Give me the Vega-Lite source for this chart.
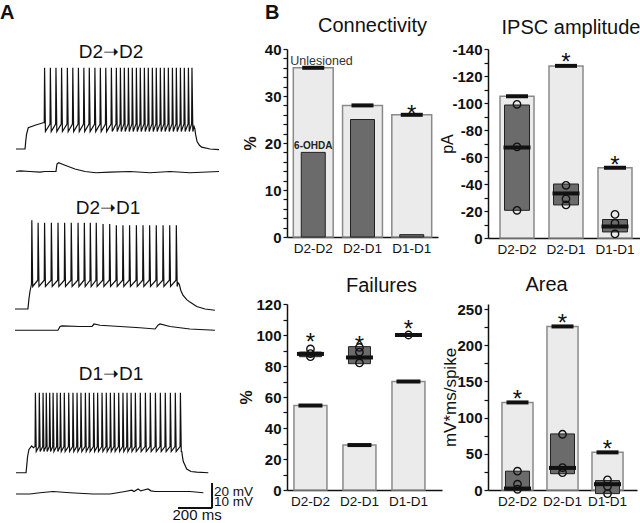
{
"$schema": "https://vega.github.io/schema/vega-lite/v6.json",
"padding": {"left": 0, "top": 2, "right": 0, "bottom": 0},
"bounds": "flush",
"columns": 3,
"align": {"row": "each", "column": "none"},
"spacing": {"row": 66, "column": 46},
"config": {
  "font": "Liberation Sans",
  "view": {"stroke": null},
  "axis": {"grid": false, "labelOverlap": false, "domainColor": "#111", "tickColor": "#111", "labelColor": "#111", "titleColor": "#111", "labelFont": "Liberation Sans", "titleFont": "Liberation Sans", "domainWidth": 1.5, "tickWidth": 1.2},
  "axisY": {"labelFontWeight": "bold"},
  "title": {"font": "Liberation Sans", "fontSize": 20, "fontWeight": "normal", "color": "#111"}
},
"concat": [
{
  "width": 226, "height": 189,
  "layer": [
    {"data": {"values": [{"t":6,"v":300},{"t":59,"v":300},{"t":63,"v":306},{"t":68,"v":312},{"t":78,"v":317},{"t":118,"v":319},{"t":165,"v":321},
{"t":172,"v":321},{"t":174,"v":365},{"t":179,"v":314},
{"t":206,"v":320},{"t":208,"v":365},{"t":213,"v":314},
{"t":239,"v":320},{"t":241,"v":365},{"t":246,"v":314},
{"t":272,"v":320},{"t":274,"v":365},{"t":279,"v":314},
{"t":306,"v":320},{"t":308,"v":365},{"t":313,"v":314},
{"t":338,"v":320},{"t":340,"v":365},{"t":345,"v":314},
{"t":371,"v":320},{"t":373,"v":365},{"t":378,"v":314},
{"t":403,"v":320},{"t":405,"v":365},{"t":410,"v":314},
{"t":435,"v":320},{"t":437,"v":365},{"t":442,"v":314},
{"t":468,"v":320},{"t":470,"v":365},{"t":475,"v":314},
{"t":500,"v":320},{"t":502,"v":365},{"t":507,"v":314},
{"t":532,"v":320},{"t":534,"v":365},{"t":539,"v":314},
{"t":565,"v":320},{"t":567,"v":365},{"t":572,"v":314},
{"t":594,"v":320},{"t":596,"v":365},{"t":601,"v":314},
{"t":618,"v":320},{"t":620,"v":365},{"t":625,"v":314},
{"t":641,"v":320},{"t":643,"v":365},{"t":648,"v":314},
{"t":665,"v":320},{"t":667,"v":365},{"t":672,"v":314},
{"t":688,"v":320},{"t":690,"v":365},{"t":695,"v":314},
{"t":712,"v":320},{"t":714,"v":365},{"t":719,"v":314},
{"t":735,"v":320},{"t":737,"v":365},{"t":742,"v":314},
{"t":759,"v":320},{"t":761,"v":365},{"t":766,"v":314},
{"t":782,"v":320},{"t":784,"v":365},{"t":789,"v":314},
{"t":806,"v":320},{"t":808,"v":365},{"t":813,"v":314},
{"t":829,"v":320},{"t":831,"v":365},{"t":836,"v":314},
{"t":853,"v":320},{"t":855,"v":365},{"t":860,"v":314},
{"t":876,"v":320},{"t":878,"v":365},{"t":883,"v":314},
{"t":900,"v":320},{"t":902,"v":365},{"t":907,"v":314},
{"t":924,"v":320},{"t":926,"v":365},{"t":931,"v":314},
{"t":947,"v":320},{"t":949,"v":365},{"t":954,"v":314},
{"t":971,"v":320},{"t":973,"v":365},{"t":978,"v":314},
{"t":994,"v":320},{"t":996,"v":365},{"t":1001,"v":314},
{"t":1018,"v":320},{"t":1020,"v":365},{"t":1025,"v":314},
{"t":1039,"v":320},{"t":1041,"v":365},{"t":1046,"v":314},
{"t":1053,"v":318},{"t":1058,"v":316},{"t":1062,"v":312},{"t":1071,"v":306},{"t":1085,"v":303},{"t":1098,"v":301.5},{"t":1147,"v":300},{"t":1200,"v":299.5}]},
     "mark": {"type": "line", "color": "#111", "strokeWidth": 1.2},
     "encoding": {"x": {"field": "t", "type": "quantitative", "scale": {"domain": [0, 1329.4], "nice": false, "zero": false}, "axis": null},
                  "y": {"field": "v", "type": "quantitative", "scale": {"domain": [228.8, 380], "nice": false, "zero": false}, "axis": null}}},
    {"data": {"values": [{"t":6,"v":282},{"t":30,"v":282.5},{"t":88,"v":282},{"t":147,"v":281.5},{"t":176,"v":282},{"t":241,"v":282},{"t":247,"v":288},{"t":256,"v":289},{"t":294,"v":287},{"t":353,"v":284},{"t":412,"v":282},{"t":476,"v":281},{"t":559,"v":281.5},{"t":676,"v":282},{"t":794,"v":281},{"t":912,"v":282},{"t":1029,"v":281},{"t":1200,"v":282}]},
     "mark": {"type": "line", "color": "#111", "strokeWidth": 1.2},
     "encoding": {"x": {"field": "t", "type": "quantitative"}, "y": {"field": "v", "type": "quantitative"}}},
    {"data": {"values": [{"t":0,"v":172},{"t":76,"v":172},{"t":82,"v":180},{"t":88,"v":186},{"t":94,"v":190},
{"t":97,"v":192},{"t":99,"v":243},{"t":104,"v":190},
{"t":134,"v":195},{"t":136,"v":241},{"t":141,"v":190},
{"t":172,"v":195},{"t":174,"v":241},{"t":179,"v":190},
{"t":212,"v":195},{"t":214,"v":241},{"t":219,"v":190},
{"t":251,"v":195},{"t":253,"v":241},{"t":258,"v":190},
{"t":290,"v":195},{"t":292,"v":241},{"t":297,"v":190},
{"t":329,"v":195},{"t":331,"v":241},{"t":336,"v":190},
{"t":369,"v":195},{"t":371,"v":241},{"t":376,"v":190},
{"t":406,"v":195},{"t":408,"v":241},{"t":413,"v":190},
{"t":441,"v":195},{"t":443,"v":241},{"t":448,"v":190},
{"t":476,"v":195},{"t":478,"v":241},{"t":483,"v":190},
{"t":516,"v":195},{"t":518,"v":240},{"t":523,"v":190},
{"t":555,"v":195},{"t":557,"v":240},{"t":562,"v":190},
{"t":594,"v":195},{"t":596,"v":239},{"t":601,"v":190},
{"t":633,"v":195},{"t":635,"v":239},{"t":640,"v":190},
{"t":672,"v":195},{"t":674,"v":239},{"t":679,"v":190},
{"t":712,"v":195},{"t":714,"v":239},{"t":719,"v":190},
{"t":751,"v":195},{"t":753,"v":239},{"t":758,"v":190},
{"t":790,"v":195},{"t":792,"v":239},{"t":797,"v":190},
{"t":829,"v":195},{"t":831,"v":239},{"t":836,"v":190},
{"t":869,"v":195},{"t":871,"v":239},{"t":876,"v":190},
{"t":908,"v":195},{"t":910,"v":239},{"t":915,"v":190},
{"t":947,"v":195},{"t":949,"v":239},{"t":954,"v":190},
{"t":959,"v":193},{"t":966,"v":192},{"t":975,"v":187},{"t":988,"v":183},{"t":1010,"v":179.5},{"t":1029,"v":177.5},{"t":1069,"v":174},{"t":1118,"v":172},{"t":1176,"v":171}]},
     "mark": {"type": "line", "color": "#111", "strokeWidth": 1.2},
     "encoding": {"x": {"field": "t", "type": "quantitative"}, "y": {"field": "v", "type": "quantitative"}}},
    {"data": {"values": [{"t":0,"v":155},{"t":147,"v":155},{"t":253,"v":155},{"t":265,"v":158},{"t":276,"v":158.5},{"t":382,"v":158},{"t":453,"v":158},{"t":465,"v":160},{"t":500,"v":159},{"t":618,"v":158},{"t":735,"v":157},{"t":824,"v":156},{"t":841,"v":159},{"t":853,"v":160},{"t":912,"v":158},{"t":1029,"v":156},{"t":1176,"v":155}]},
     "mark": {"type": "line", "color": "#111", "strokeWidth": 1.2},
     "encoding": {"x": {"field": "t", "type": "quantitative"}, "y": {"field": "v", "type": "quantitative"}}},
    {"data": {"values": [{}]}, "mark": {"type": "text", "text": "A", "fontSize": 20, "fontWeight": "bold", "align": "left", "baseline": "alphabetic", "color": "#111"}, "encoding": {"x": {"datum": -88}, "y": {"datum": 404}}},
    {"data": {"values": [{}]}, "mark": {"type": "text", "text": "B", "fontSize": 20, "fontWeight": "bold", "align": "left", "baseline": "alphabetic", "color": "#111"}, "encoding": {"x": {"datum": 1470}, "y": {"datum": 404}}},
    {"data": {"values": [{}]}, "mark": {"type": "text", "text": "D2➝D2", "fontSize": 19, "baseline": "alphabetic", "color": "#111"}, "encoding": {"x": {"datum": 565}, "y": {"datum": 372.8}}},
    {"data": {"values": [{}]}, "mark": {"type": "text", "text": "D2➝D1", "fontSize": 19, "baseline": "alphabetic", "color": "#111"}, "encoding": {"x": {"datum": 547}, "y": {"datum": 248}}}
  ]
},
{
  "width": 151, "height": 188,
  "title": {"text": "Connectivity", "frame": "group", "dx": 10, "offset": 6},
  "encoding": {
    "x": {"field": "g", "type": "nominal", "scale": {"domain": ["D2-D2","D2-D1","D1-D1"], "paddingInner": 0.19, "paddingOuter": 0.128}, "axis": {"title": null, "ticks": false, "labelAngle": 0, "labelFontSize": 13.5, "labelPadding": 4}},
    "y": {"field": "y", "type": "quantitative", "scale": {"domain": [0, 40], "nice": false}, "axis": {"values": [0,2,4,6,8,10,12,14,16,18,20,22,24,26,28,30,32,34,36,38,40], "labelExpr": "datum.value % 10 == 0 ? datum.label : ''", "labelOverlap": false, "labelFlush": false, "title": "%", "titleFontWeight": "bold", "titleFontSize": 16, "tickSize": 4, "labelPadding": 2, "labelFontSize": 15, "titlePadding": 6}}
  },
  "layer": [
    {"data": {"values": [{"g":"D2-D2","y":36},{"g":"D2-D1","y":28},{"g":"D1-D1","y":26}]},
     "mark": {"type": "bar", "fill": "#ebebeb", "stroke": "#8a8a8a", "strokeWidth": 1.5}},
    {"data": {"values": [{"g":"D2-D2","y":18,"y2":0},{"g":"D2-D1","y":25,"y2":0},{"g":"D1-D1","y":0.5,"y2":0}]},
     "mark": {"type": "bar", "width": 24, "fill": "#6b6b6b", "stroke": "#222", "strokeWidth": 1},
     "encoding": {"y2": {"field": "y2"}}},
    {"data": {"values": [{"g":"D2-D2","y":36},{"g":"D2-D1","y":28},{"g":"D1-D1","y":26}]},
     "mark": {"type": "tick", "thickness": 4, "size": 22, "color": "#111", "opacity": 1}},
    {"data": {"values": [{"g":"D1-D1","y":27.4}]},
     "mark": {"type": "text", "text": "*", "fontSize": 24, "baseline": "middle", "dy": 7, "color": "#111"}},
    {"data": {"values": [{"g":"D2-D2","y":36.6}]}, "mark": {"type": "text", "text": "Unlesioned", "fontSize": 12.5, "align": "left", "dx": -23, "baseline": "alphabetic", "color": "#333"}},
    {"data": {"values": [{"g":"D2-D2","y":18.8}]}, "mark": {"type": "text", "text": "6-OHDA", "fontSize": 10, "fontWeight": "bold", "baseline": "alphabetic", "color": "#222"}}
  ]
},
{
  "width": 156, "height": 189,
  "title": {"text": "IPSC amplitude", "frame": "group", "dx": 5, "offset": 4},
  "encoding": {
    "x": {"field": "g", "type": "nominal", "scale": {"domain": ["D2-D2","D2-D1","D1-D1"], "paddingInner": 0.306, "paddingOuter": 0.245}, "axis": {"title": null, "ticks": false, "labelAngle": 0, "labelFontSize": 13.5, "labelPadding": 4}},
    "y": {"field": "y", "type": "quantitative", "scale": {"domain": [0, -140], "nice": false, "zero": false}, "axis": {"values": [0,-10,-20,-30,-40,-50,-60,-70,-80,-90,-100,-110,-120,-130,-140], "labelExpr": "datum.value % 20 == 0 ? '' + datum.value : ''", "labelOverlap": false, "labelFlush": false, "title": "pA", "titleFontWeight": "normal", "titleFontSize": 16, "tickSize": 4, "labelPadding": 2, "labelFontSize": 15, "titlePadding": -4}}
  },
  "layer": [
    {"data": {"values": [{"g":"D2-D2","y":-105},{"g":"D2-D1","y":-127.5},{"g":"D1-D1","y":-52}]},
     "mark": {"type": "bar", "fill": "#ebebeb", "stroke": "#8a8a8a", "strokeWidth": 1.5}},
    {"data": {"values": [{"g":"D2-D2","y":-98.5,"y2":-20.5},{"g":"D2-D1","y":-40,"y2":-24.5},{"g":"D1-D1","y":-13.7,"y2":-4.5}]},
     "mark": {"type": "bar", "width": 25, "fill": "#6b6b6b", "stroke": "#222", "strokeWidth": 1},
     "encoding": {"y2": {"field": "y2"}}},
    {"data": {"values": [{"g":"D2-D2","y":-105},{"g":"D2-D1","y":-127.5},{"g":"D1-D1","y":-52}]},
     "mark": {"type": "tick", "thickness": 4, "size": 22, "color": "#111", "opacity": 1}},
    {"data": {"values": [{"g":"D2-D2","y":-99},{"g":"D2-D2","y":-67.5},{"g":"D2-D2","y":-20.5},{"g":"D2-D1","y":-39},{"g":"D2-D1","y":-29},{"g":"D2-D1","y":-24.5},{"g":"D1-D1","y":-17.5},{"g":"D1-D1","y":-11},{"g":"D1-D1","y":-3}]},
     "mark": {"type": "point", "shape": "circle", "filled": false, "stroke": "#111", "strokeWidth": 1.4, "size": 55, "opacity": 1}},
    {"data": {"values": [{"g":"D2-D2","y":-67},{"g":"D2-D1","y":-33},{"g":"D1-D1","y":-8.5}]},
     "mark": {"type": "tick", "thickness": 4, "size": 27, "color": "#111", "opacity": 1}},
    {"data": {"values": [{"g":"D2-D1","y":-135},{"g":"D1-D1","y":-58.5}]},
     "mark": {"type": "text", "text": "*", "fontSize": 24, "baseline": "middle", "dy": 7, "color": "#111"}}
  ]
},
{
  "width": 226, "height": 186,
  "layer": [
    {"data": {"values": [{"t":6,"v":41},{"t":65,"v":41},{"t":70,"v":48},{"t":74,"v":54},{"t":82,"v":59.6},{"t":98,"v":62.4},{"t":108,"v":61},
{"t":118,"v":62},{"t":120,"v":105},{"t":125,"v":58},
{"t":141,"v":62},{"t":143,"v":105},{"t":148,"v":58},
{"t":163,"v":62},{"t":165,"v":105},{"t":170,"v":58},
{"t":182,"v":62},{"t":184,"v":105},{"t":189,"v":58},
{"t":202,"v":62},{"t":204,"v":105},{"t":209,"v":58},
{"t":222,"v":62},{"t":224,"v":105},{"t":229,"v":58},
{"t":245,"v":62},{"t":247,"v":105},{"t":252,"v":58},
{"t":265,"v":62},{"t":267,"v":105},{"t":272,"v":58},
{"t":288,"v":62},{"t":290,"v":105},{"t":295,"v":58},
{"t":314,"v":62},{"t":316,"v":105},{"t":321,"v":58},
{"t":339,"v":62},{"t":341,"v":105},{"t":346,"v":58},
{"t":363,"v":62},{"t":365,"v":105},{"t":370,"v":58},
{"t":386,"v":62},{"t":388,"v":105},{"t":393,"v":58},
{"t":412,"v":62},{"t":414,"v":105},{"t":419,"v":58},
{"t":435,"v":62},{"t":437,"v":105},{"t":442,"v":58},
{"t":461,"v":62},{"t":463,"v":105},{"t":468,"v":58},
{"t":484,"v":62},{"t":486,"v":105},{"t":491,"v":58},
{"t":510,"v":62},{"t":512,"v":105},{"t":517,"v":58},
{"t":535,"v":62},{"t":537,"v":105},{"t":542,"v":58},
{"t":559,"v":62},{"t":561,"v":105},{"t":566,"v":58},
{"t":582,"v":62},{"t":584,"v":105},{"t":589,"v":58},
{"t":608,"v":62},{"t":610,"v":105},{"t":615,"v":58},
{"t":633,"v":62},{"t":635,"v":105},{"t":640,"v":58},
{"t":657,"v":62},{"t":659,"v":105},{"t":664,"v":58},
{"t":681,"v":62},{"t":683,"v":105},{"t":688,"v":58},
{"t":706,"v":62},{"t":708,"v":105},{"t":713,"v":58},
{"t":735,"v":62},{"t":737,"v":105},{"t":742,"v":58},
{"t":765,"v":62},{"t":767,"v":105},{"t":772,"v":58},
{"t":794,"v":62},{"t":796,"v":105},{"t":801,"v":58},
{"t":824,"v":62},{"t":826,"v":105},{"t":831,"v":58},
{"t":853,"v":62},{"t":855,"v":105},{"t":860,"v":58},
{"t":882,"v":62},{"t":884,"v":105},{"t":889,"v":58},
{"t":912,"v":62},{"t":914,"v":105},{"t":919,"v":58},
{"t":941,"v":62},{"t":943,"v":105},{"t":948,"v":58},
{"t":971,"v":62},{"t":973,"v":105},{"t":978,"v":58},
{"t":981,"v":58},{"t":985,"v":54},{"t":990,"v":50},{"t":1000,"v":47},{"t":1010,"v":44},{"t":1035,"v":42},{"t":1069,"v":41.5},{"t":1137,"v":41}]},
     "mark": {"type": "line", "color": "#111", "strokeWidth": 1.2},
     "encoding": {"x": {"field": "t", "type": "quantitative", "scale": {"domain": [0, 1329.4], "nice": false, "zero": false}, "axis": null},
                  "y": {"field": "v", "type": "quantitative", "scale": {"domain": [27.2, 176], "nice": false, "zero": false}, "axis": null}}},
    {"data": {"values": [{"t":6,"v":24},{"t":88,"v":24},{"t":147,"v":25},{"t":224,"v":26},{"t":324,"v":25},{"t":459,"v":24},{"t":559,"v":24},{"t":647,"v":26},{"t":688,"v":27},{"t":700,"v":26},{"t":724,"v":28},{"t":740,"v":26.5},{"t":753,"v":27},{"t":782,"v":28},{"t":800,"v":26.5},{"t":824,"v":26},{"t":871,"v":26},{"t":941,"v":26},{"t":1029,"v":26},{"t":1108,"v":25}]},
     "mark": {"type": "line", "color": "#111", "strokeWidth": 1.2},
     "encoding": {"x": {"field": "t", "type": "quantitative"}, "y": {"field": "v", "type": "quantitative"}}},
    {"data": {"values": [{}]}, "mark": {"type": "rule", "color": "#111", "strokeWidth": 2}, "encoding": {"x": {"datum": 1159}, "y": {"datum": 12.8}, "y2": {"datum": 32.8}}},
    {"data": {"values": [{}]}, "mark": {"type": "rule", "color": "#111", "strokeWidth": 2}, "encoding": {"x": {"datum": 959}, "x2": {"datum": 1160}, "y": {"datum": 12.8}}},
    {"data": {"values": [{}]}, "mark": {"type": "text", "text": "D1➝D1", "fontSize": 19, "baseline": "alphabetic", "color": "#111"}, "encoding": {"x": {"datum": 565}, "y": {"datum": 115.2}}},
    {"data": {"values": [{}]}, "mark": {"type": "text", "text": "20 mV", "fontSize": 13.5, "align": "left", "baseline": "alphabetic", "color": "#111"}, "encoding": {"x": {"datum": 1170}, "y": {"datum": 22.4}}},
    {"data": {"values": [{}]}, "mark": {"type": "text", "text": "10 mV", "fontSize": 13.5, "align": "left", "baseline": "alphabetic", "color": "#111"}, "encoding": {"x": {"datum": 1170}, "y": {"datum": 14.4}}},
    {"data": {"values": [{}]}, "mark": {"type": "text", "text": "200 ms", "fontSize": 15, "baseline": "alphabetic", "color": "#111"}, "encoding": {"x": {"datum": 1071}, "y": {"datum": 3.2}}}
  ]
},
{
  "width": 155, "height": 186,
  "title": {"text": "Failures", "frame": "group", "dx": 17, "offset": 1.5},
  "encoding": {
    "x": {"field": "g", "type": "nominal", "scale": {"domain": ["D2-D2","D2-D1","D1-D1"], "paddingInner": 0.327, "paddingOuter": 0.245, "align": 0.29}, "axis": {"title": null, "ticks": false, "labelAngle": 0, "labelFontSize": 13.5, "labelPadding": 4}},
    "y": {"field": "y", "type": "quantitative", "scale": {"domain": [0, 120], "nice": false}, "axis": {"values": [0,10,20,30,40,50,60,70,80,90,100,110,120], "labelExpr": "datum.value % 20 == 0 ? datum.label : ''", "labelOverlap": false, "labelFlush": false, "title": "%", "titleFontWeight": "bold", "titleFontSize": 16, "tickSize": 4, "labelPadding": 2, "labelFontSize": 15, "titlePadding": 1}}
  },
  "layer": [
    {"data": {"values": [{"g":"D2-D2","y":54.5},{"g":"D2-D1","y":29},{"g":"D1-D1","y":70}]},
     "mark": {"type": "bar", "fill": "#ebebeb", "stroke": "#8a8a8a", "strokeWidth": 1.5}},
    {"data": {"values": [{"g":"D2-D2","y":89,"y2":86},{"g":"D2-D1","y":92.5,"y2":81.5},{"g":"D1-D1","y":100,"y2":100}]},
     "mark": {"type": "bar", "width": 22, "fill": "#6b6b6b", "stroke": "#222", "strokeWidth": 1},
     "encoding": {"y2": {"field": "y2"}}},
    {"data": {"values": [{"g":"D2-D2","y":54.5},{"g":"D2-D1","y":29},{"g":"D1-D1","y":70}]},
     "mark": {"type": "tick", "thickness": 4, "size": 24, "color": "#111", "opacity": 1}},
    {"data": {"values": [{"g":"D2-D2","y":91},{"g":"D2-D2","y":88},{"g":"D2-D2","y":86},{"g":"D2-D1","y":92},{"g":"D2-D1","y":89},{"g":"D2-D1","y":82},{"g":"D1-D1","y":100}]},
     "mark": {"type": "point", "shape": "circle", "filled": false, "stroke": "#111", "strokeWidth": 1.4, "size": 55, "opacity": 1}},
    {"data": {"values": [{"g":"D2-D2","y":87.8},{"g":"D2-D1","y":85.5},{"g":"D1-D1","y":100}]},
     "mark": {"type": "tick", "thickness": 4, "size": 27, "color": "#111", "opacity": 1}},
    {"data": {"values": [{"g":"D2-D2","y":99.5},{"g":"D2-D1","y":97.6},{"g":"D1-D1","y":108}]},
     "mark": {"type": "text", "text": "*", "fontSize": 24, "baseline": "middle", "dy": 7, "color": "#111"}}
  ]
},
{
  "width": 149, "height": 186,
  "title": {"text": "Area", "frame": "group", "dx": -16, "offset": 7},
  "encoding": {
    "x": {"field": "g", "type": "nominal", "scale": {"domain": ["D2-D2","D2-D1","D1-D1"], "paddingInner": 0.31, "paddingOuter": 0.31}, "axis": {"title": null, "ticks": false, "labelAngle": 0, "labelFontSize": 13.5, "labelPadding": 4}},
    "y": {"field": "y", "type": "quantitative", "scale": {"domain": [0, 257], "nice": false}, "axis": {"values": [0,25,50,75,100,125,150,175,200,225,250], "labelExpr": "datum.value % 50 == 0 ? datum.label : ''", "labelOverlap": false, "labelFlush": false, "title": "mV*ms/spike", "titleFontWeight": "normal", "titleFontSize": 17, "tickSize": 4, "labelPadding": 2, "labelFontSize": 15, "titlePadding": -3}}
  },
  "layer": [
    {"data": {"values": [{"g":"D2-D2","y":121},{"g":"D2-D1","y":226},{"g":"D1-D1","y":52}]},
     "mark": {"type": "bar", "fill": "#ebebeb", "stroke": "#8a8a8a", "strokeWidth": 1.5}},
    {"data": {"values": [{"g":"D2-D2","y":26,"y2":0},{"g":"D2-D1","y":77.5,"y2":22.5},{"g":"D1-D1","y":13,"y2":-5}]},
     "mark": {"type": "bar", "width": 24, "fill": "#6b6b6b", "stroke": "#222", "strokeWidth": 1},
     "encoding": {"y2": {"field": "y2"}}},
    {"data": {"values": [{"g":"D2-D2","y":121},{"g":"D2-D1","y":226},{"g":"D1-D1","y":52}]},
     "mark": {"type": "tick", "thickness": 4, "size": 22, "color": "#111", "opacity": 1}},
    {"data": {"values": [{"g":"D2-D2","y":26},{"g":"D2-D2","y":8},{"g":"D2-D2","y":1},{"g":"D2-D1","y":77},{"g":"D2-D1","y":31},{"g":"D2-D1","y":24},{"g":"D1-D1","y":14},{"g":"D1-D1","y":5},{"g":"D1-D1","y":-5}]},
     "mark": {"type": "point", "shape": "circle", "filled": false, "stroke": "#111", "strokeWidth": 1.4, "size": 55, "opacity": 1}},
    {"data": {"values": [{"g":"D2-D2","y":2},{"g":"D2-D1","y":30.5},{"g":"D1-D1","y":8}]},
     "mark": {"type": "tick", "thickness": 4, "size": 27, "color": "#111", "opacity": 1}},
    {"data": {"values": [{"g":"D2-D2","y":134},{"g":"D2-D1","y":238.5},{"g":"D1-D1","y":65}]},
     "mark": {"type": "text", "text": "*", "fontSize": 24, "baseline": "middle", "dy": 7, "color": "#111"}}
  ]
}
]
}
